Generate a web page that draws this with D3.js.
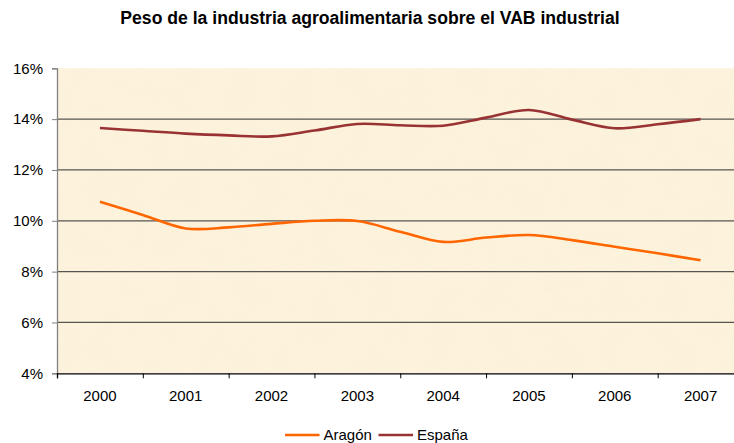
<!DOCTYPE html>
<html>
<head>
<meta charset="utf-8">
<script src="https://cdn.jsdelivr.net/npm/d3@7"></script>
<style>
  html, body { margin: 0; padding: 0; background: #fff; }
  svg { display: block; font-family: "Liberation Sans", Arial, sans-serif; }
</style>
</head>
<body>
<svg id="chart" width="734" height="443"></svg>
<script>
// ---- data ----
const yearLabels = ["2000", "2001", "2002", "2003", "2004", "2005", "2006", "2007"];
// semi-annual points from 2000 to 2007
const periods = [2000, 2000.5, 2001, 2001.5, 2002, 2002.5, 2003, 2003.5, 2004, 2004.5, 2005, 2005.5, 2006, 2006.5, 2007];
const aragon = [10.75, 10.23, 9.70, 9.74, 9.88, 10.0, 9.99, 9.57, 9.17, 9.34, 9.44, 9.24, 8.98, 8.72, 8.45];
const espana = [13.65, 13.54, 13.43, 13.36, 13.32, 13.55, 13.81, 13.76, 13.74, 14.06, 14.36, 13.98, 13.64, 13.80, 14.0];
const yTicks = [4, 6, 8, 10, 12, 14, 16];
const seriesNames = ["Aragón", "España"];
const seriesColors = ["#FF6600", "#993333"];

(function () {
const svg = d3.select("#chart");
const pL = 57, pR = 743.5, pT = 68.3, pB = 373.3;

const x = d3.scaleLinear().domain([1999.5, 2007.5]).range([pL, pR]);
const y = d3.scaleLinear().domain([4, 16]).range([pB, pT]);

// background texture
const defs = svg.append("defs");
const filt = defs.append("filter").attr("id", "paper").attr("x", 0).attr("y", 0).attr("width", 1).attr("height", 1);
filt.append("feTurbulence").attr("type", "fractalNoise").attr("baseFrequency", "0.035").attr("numOctaves", 3).attr("seed", 4).attr("result", "noise");
filt.append("feColorMatrix").attr("in", "noise").attr("type", "matrix")
  .attr("values", "0 0 0 0 0.93  0 0 0 0 0.86  0 0 0 0 0.70  0 0 0 -1.6 1.05");
defs.append("clipPath").attr("id", "clip").append("rect")
  .attr("x", pL).attr("y", pT).attr("width", pR - pL).attr("height", pB - pT);

svg.append("rect").attr("x", pL).attr("y", pT).attr("width", pR - pL).attr("height", pB - pT)
  .attr("fill", "#FDF3DC");
svg.append("rect").attr("x", pL).attr("y", pT).attr("width", pR - pL).attr("height", pB - pT)
  .attr("filter", "url(#paper)").attr("opacity", 0.3);

// title
svg.append("text").attr("x", 370).attr("y", 24).attr("text-anchor", "middle")
  .attr("font-size", "17.6px").attr("font-weight", "bold").attr("fill", "#000")
  .text("Peso de la industria agroalimentaria sobre el VAB industrial");

// gridlines
svg.append("g").selectAll("line").data(yTicks.filter(d => d > 4 && d < 16)).join("line")
  .attr("x1", pL).attr("x2", pR)
  .attr("y1", d => y(d)).attr("y2", d => y(d))
  .attr("stroke", "#3a3a3a").attr("stroke-width", 1.3).attr("opacity", 0.85);

// y axis
const yAxis = svg.append("g").attr("transform", `translate(${pL},0)`)
  .call(d3.axisLeft(y).tickValues(yTicks).tickSize(5).tickPadding(9).tickFormat(d => d + "%"));
yAxis.select(".domain").attr("stroke", "#808080").attr("stroke-width", 1.3);
yAxis.selectAll(".tick line").attr("stroke", "#808080");
yAxis.selectAll(".tick text").attr("font-size", "15px").attr("fill", "#000")
  .attr("font-family", "Liberation Sans, Arial, sans-serif");

// x axis: ticks between categories
const tickPos = d3.range(1999.5, 2008, 1);
const xAxis = svg.append("g").attr("transform", `translate(0,${pB})`)
  .call(d3.axisBottom(x).tickValues(tickPos).tickSize(5).tickFormat(""));
xAxis.select(".domain").attr("stroke", "#000").attr("stroke-width", 1.3);
xAxis.selectAll(".tick line").attr("stroke", "#000");
svg.append("g").selectAll("text").data(yearLabels).join("text")
  .attr("x", d => x(+d)).attr("y", pB + 28).attr("text-anchor", "middle")
  .attr("font-size", "15px").attr("fill", "#000").text(d => d);

// lines
const line = d3.line().x((d, i) => x(periods[i])).y(d => y(d)).curve(d3.curveCatmullRom.alpha(0.5));
const g = svg.append("g").attr("clip-path", "url(#clip)");
[aragon, espana].forEach((s, i) => {
  g.append("path").datum(s).attr("d", line).attr("fill", "none")
    .attr("stroke", seriesColors[i]).attr("stroke-width", 2.6).attr("stroke-linejoin", "round");
});

// legend
const legX = [285, 378.5];
seriesNames.forEach((n, i) => {
  svg.append("line").attr("x1", legX[i]).attr("x2", legX[i] + 34.5).attr("y1", 435).attr("y2", 435)
    .attr("stroke", seriesColors[i]).attr("stroke-width", 2.6);
  svg.append("text").attr("x", legX[i] + 38.5).attr("y", 440).attr("font-size", "15px").attr("fill", "#000").text(n);
});
})();
</script>
</body>
</html>
